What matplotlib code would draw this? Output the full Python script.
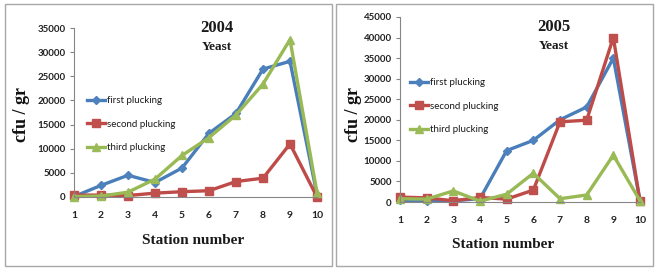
import matplotlib
matplotlib.use('Agg')
import matplotlib.pyplot as plt
from matplotlib.patches import Rectangle

# Data
stations = [1, 2, 3, 4, 5, 6, 7, 8, 9, 10]

first_2004 = [100, 2400, 4500, 3000, 6000, 13200, 17300, 26500, 28100, 500]
second_2004 = [400, 400, 300, 800, 1100, 1300, 3200, 3900, 11000, 0]
third_2004 = [100, 200, 1000, 3700, 8600, 12300, 17000, 23400, 32600, 900]

first_2005 = [400, 300, 300, 800, 12500, 15000, 20000, 23100, 35000, 300]
second_2005 = [1200, 1000, 300, 1100, 700, 2900, 19500, 19900, 40000, 200]
third_2005 = [800, 700, 2700, 200, 1900, 7000, 800, 1700, 11400, 300]

labels = ['first plucking', 'second plucking', 'third plucking']
line_colors = ['#4A7EBB', '#BE4B48', '#98B954']
marker_colors = ['#4F81BD', '#C0504D', '#9BBB59']
markers = ['D', 's', '^']
msizes = [4, 6, 6]

W, H = 656, 269
fig = plt.figure(figsize=(W / 100, H / 100), dpi=100)
fig.patch.set_facecolor('white')

serif = ['Liberation Serif', 'DejaVu Serif']
sans = ['Lato', 'Liberation Sans', 'DejaVu Sans']


def px_axes(x0, x1, ytop, ybot):
    return fig.add_axes([x0 / W, 1 - ybot / H, (x1 - x0) / W, (ybot - ytop) / H])


# panel frames
for (x0, x1, y0, y1) in [(5, 332, 4, 266), (336, 653, 4, 266)]:
    fig.patches.append(Rectangle((x0 / W, 1 - y1 / H), (x1 - x0) / W, (y1 - y0) / H,
                                 transform=fig.transFigure, facecolor='none',
                                 edgecolor='#A8A8A8', linewidth=1.0))

panels = [
    dict(px=(74, 317, 28, 197), ymax=35000, series=[first_2004, second_2004, third_2004],
         title='2004', tx=217, ty=28, yx=22, xlx=193, xly=240, xtick_y=217,
         leg=(87, 105)),
    dict(px=(400, 640, 17, 202), ymax=45000, series=[first_2005, second_2005, third_2005],
         title='2005', tx=554, ty=27, yx=353, xlx=503, xly=245, xtick_y=222,
         leg=(410, 87)),
]

for p in panels:
    x0, x1, yt, yb = p['px']
    ax = px_axes(x0, x1, yt, yb)
    for vals, lab, lc, mc, mk, ms in zip(p['series'], labels, line_colors,
                                         marker_colors, markers, msizes):
        ax.plot(stations, vals, color=lc, linewidth=2.4, marker=mk, markersize=ms,
                markerfacecolor=mc, markeredgecolor=mc, label=lab, clip_on=False)
    ax.set_xlim(1, 10)
    ax.set_ylim(0, p['ymax'])
    ax.set_yticks(range(0, p['ymax'] + 1, 5000))
    ax.set_xticks(stations)
    ax.set_facecolor('none')
    for s in ['top', 'right']:
        ax.spines[s].set_visible(False)
    for s in ['left', 'bottom']:
        ax.spines[s].set_color('#868686')
        ax.spines[s].set_linewidth(0.8)
    ax.tick_params(axis='y', length=3, color='#868686', labelsize=7, pad=3)
    ax.tick_params(axis='x', length=0, labelsize=7.5, pad=(p['xtick_y'] - yb) * 0.72 - 4)
    for t in ax.get_yticklabels() + ax.get_xticklabels():
        t.set_fontfamily(sans)
        t.set_fontweight('bold')
        t.set_color('#222222')

    fig.text(p['tx'] / W, 1 - p['ty'] / H, p['title'], ha='center', va='center',
             fontsize=12, fontweight='bold', family=serif, color='#1a1a1a')
    fig.text(p['tx'] / W, 1 - (p['ty'] + 19) / H, 'Yeast', ha='center', va='center',
             fontsize=9.5, fontweight='bold', family=serif, color='#1a1a1a')
    fig.text(p['yx'] / W, 1 - 114 / H, 'cfu / gr', ha='center', va='center',
             rotation=90, fontsize=13, fontweight='bold', family=serif, color='#111111')
    fig.text(p['xlx'] / W, 1 - p['xly'] / H, 'Station number', ha='center', va='center',
             fontsize=11, fontweight='bold', family=serif, color='#1a1a1a')

    lx, ly = p['leg']
    leg = ax.legend(loc='upper left', bbox_to_anchor=(lx / W, 1 - (ly - 9) / H),
                    bbox_transform=fig.transFigure, frameon=False,
                    prop={'family': sans, 'size': 7}, labelspacing=1.5,
                    handlelength=1.8, handletextpad=0.3, borderpad=0, borderaxespad=0)
    for t in leg.get_texts():
        t.set_color('#1a1a1a')

fig.savefig('out.png', dpi=100, facecolor='white')
